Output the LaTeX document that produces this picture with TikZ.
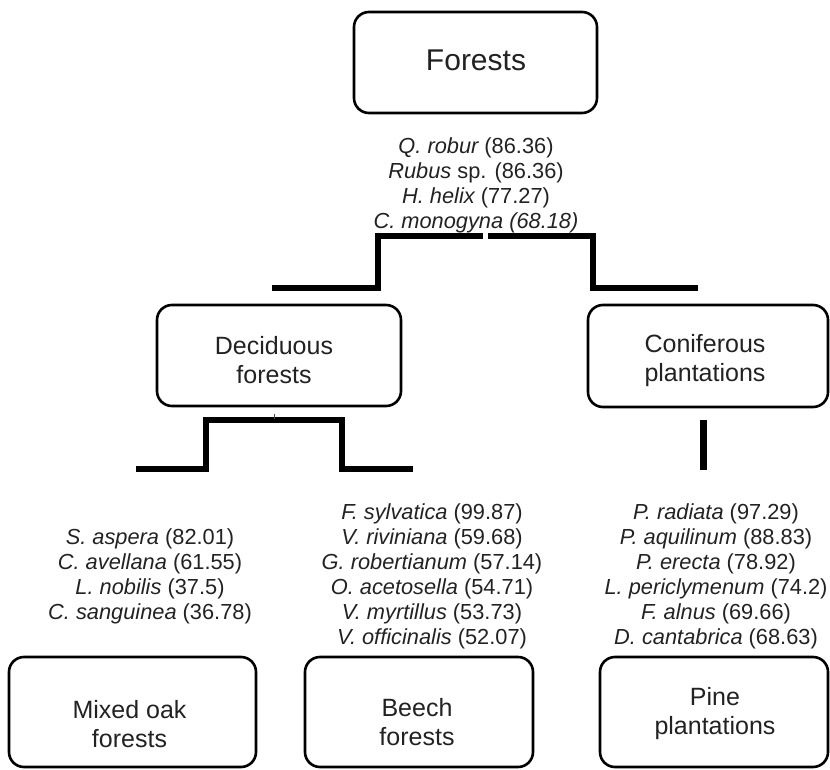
\documentclass[tikz,border=0pt]{standalone}
\usepackage{fontspec}
\setmainfont{Liberation Sans}
\definecolor{txt}{HTML}{222222}
\tikzset{
  box/.style={draw=black, line width=2.6pt, rounded corners=15pt, inner sep=0pt},
  lbl/.style={font=\fontsize{25}{29}\selectfont, text=txt, align=center, inner sep=0pt},
  spp/.style={font=\fontsize{21.8}{25}\selectfont, text=txt, align=center, inner sep=0pt},
  brk/.style={line width=6.5pt, line join=miter, line cap=butt, draw=black},
  tick/.style={line width=1pt, draw=black!70},
}
\begin{document}
\begin{tikzpicture}[x=1pt,y=-1pt]
\useasboundingbox (0,0) rectangle (830,770);

% boxes
\node[box, minimum width=243pt, minimum height=101pt] (forests) at (475.5,62.5) {};
\node[lbl, font=\fontsize{30}{34}\selectfont] (forestsT) at (476,60.5) {Forests};

\node[box, minimum width=244pt, minimum height=101pt] (decid) at (279,355.5) {};
\node[lbl] (decidT) at (274,360) {Deciduous\\forests};

\node[box, minimum width=240pt, minimum height=102pt] (conif) at (708,356) {};
\node[lbl] (conifT) at (705,360.5) {Coniferous\\plantations};

\node[box, minimum width=247pt, minimum height=110pt] (mixed) at (132.5,712) {};
\node[lbl] (mixedT) at (129.5,724.5) {Mixed oak\\forests};

\node[box, minimum width=228pt, minimum height=110pt] (beech) at (419,712) {};
\node[lbl] (beechT) at (417,722.5) {Beech\\forests};

\node[box, minimum width=228pt, minimum height=110pt] (pine) at (714,712) {};
\node[lbl] (pineT) at (715,714) {Pine\\plantations};

% species lists
\node[spp] (sppTop) at (476,185) {{\itshape Q. robur} (86.36)\\{\itshape Rubus} sp. (86.36)\\{\itshape H. helix} (77.27)\\{\itshape C. monogyna (68.18)}};

\node[spp] (sppMixed) at (150,576) {{\itshape S. aspera} (82.01)\\{\itshape C. avellana} (61.55)\\{\itshape L. nobilis} (37.5)\\{\itshape C. sanguinea} (36.78)};

\node[spp] (sppBeech) at (432,576) {{\itshape F. sylvatica} (99.87)\\{\itshape V. riviniana} (59.68)\\{\itshape G. robertianum} (57.14)\\{\itshape O. acetosella} (54.71)\\{\itshape V. myrtillus} (53.73)\\{\itshape V. officinalis} (52.07)};

\node[spp] (sppPine) at (716,576) {{\itshape P. radiata} (97.29)\\{\itshape P. aquilinum} (88.83)\\{\itshape P. erecta} (78.92)\\{\itshape L. periclymenum} (74.2)\\{\itshape F. alnus} (69.66)\\{\itshape D. cantabrica} (68.63)};

% bracket 1
\coordinate (a1) at (272,288);
\coordinate (a2) at (378,288);
\coordinate (a3) at (378,236);
\coordinate (a4) at (483,236);
\coordinate (a5) at (488,236);
\coordinate (a6) at (593,236);
\coordinate (a7) at (593,288);
\coordinate (a8) at (698,288);
\draw[brk] (a1) -- (a2) -- (a3) -- (a4);
\draw[brk] (a5) -- (a6) -- (a7) -- (a8);

% bracket 2
\coordinate (c1) at (136,469);
\coordinate (c2) at (206,469);
\coordinate (c3) at (206,420);
\coordinate (c4) at (342,420);
\coordinate (c5) at (342,469);
\coordinate (c6) at (413,469);
\draw[brk] (c1) -- (c2) -- (c3) -- (c4) -- (c5) -- (c6);
\coordinate (t1) at (274,414);
\coordinate (t2) at (274,419);
\draw[tick] (t1) -- (t2);

% coniferous bar
\coordinate (d1) at (703,420);
\coordinate (d2) at (703,470);
\draw[brk, line width=7pt] (d1) -- (d2);
\end{tikzpicture}
\end{document}
